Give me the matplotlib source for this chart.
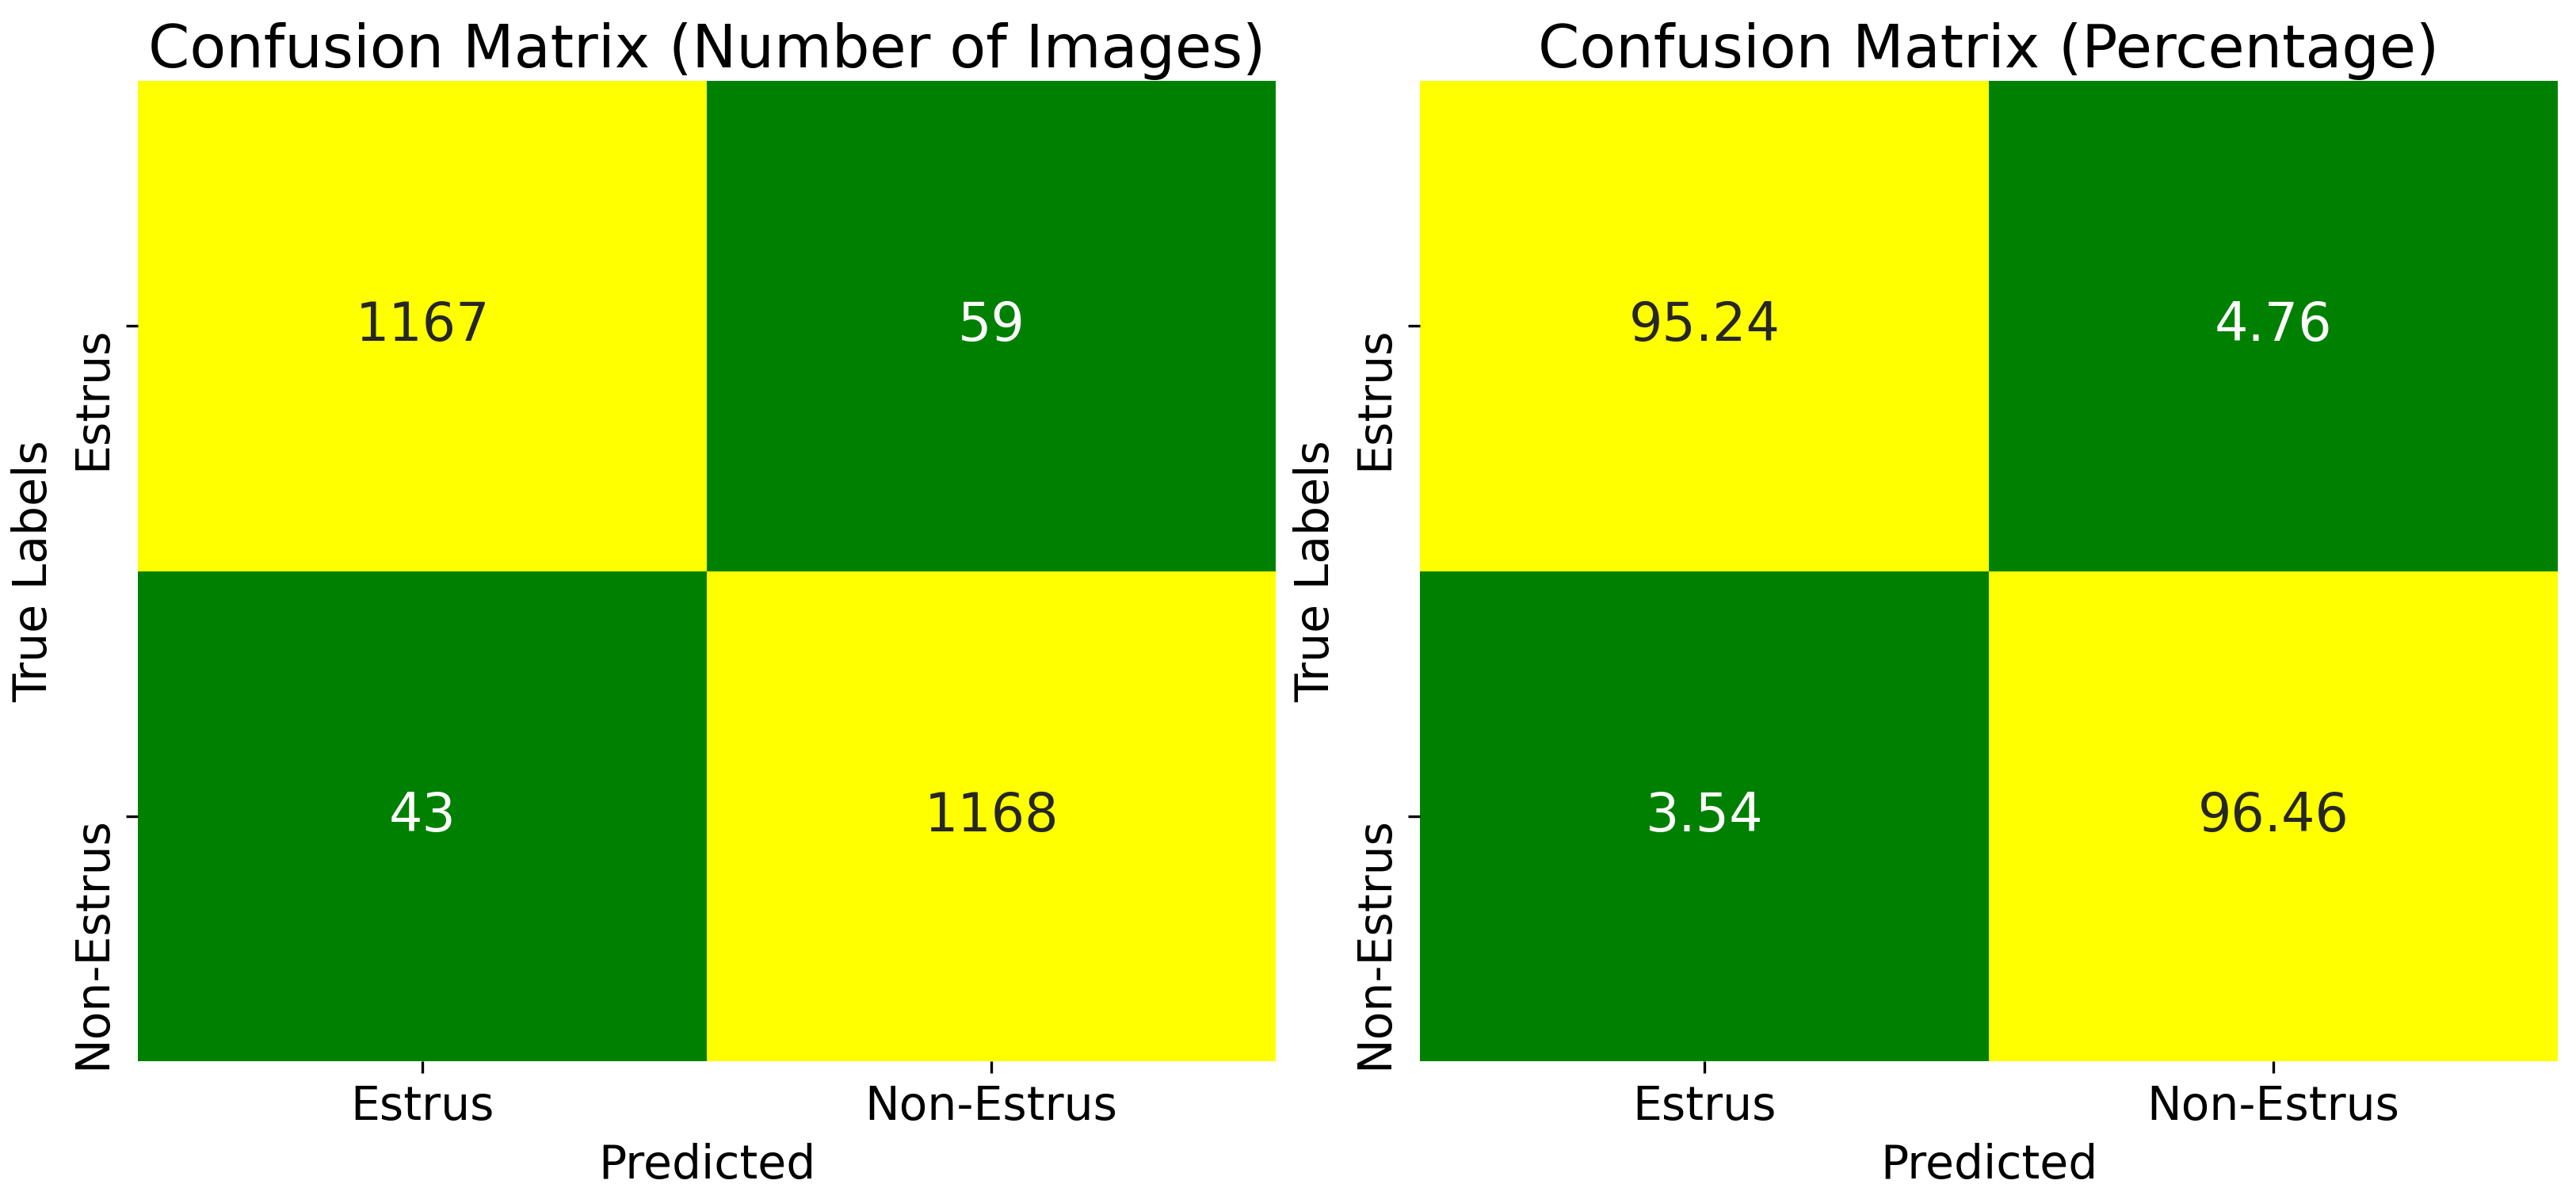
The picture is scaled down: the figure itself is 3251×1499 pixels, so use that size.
import matplotlib
matplotlib.use("Agg")
import matplotlib.pyplot as plt
import seaborn as sns
import numpy as np
from matplotlib.colors import ListedColormap

labels = ["Estrus", "Non-Estrus"]
counts = np.array([[1167, 59],
                   [43, 1168]])
percent = np.array([[95.24, 4.76],
                    [3.54, 96.46]])

W, H, DPI = 3251, 1499, 300
fig = plt.figure(figsize=(W / DPI, H / DPI), dpi=DPI)
cmap = ListedColormap(["green", "yellow"])

ax1 = fig.add_axes([174 / W, 1 - 1339 / H, 1436 / W, 1237 / H])
ax2 = fig.add_axes([1792 / W, 1 - 1339 / H, 1436 / W, 1237 / H])

sns.heatmap(counts, annot=True, fmt="d", cmap=cmap, cbar=False, ax=ax1,
            xticklabels=labels, yticklabels=labels, annot_kws={"size": 16})
sns.heatmap(percent, annot=True, fmt=".2f", cmap=cmap, cbar=False, ax=ax2,
            xticklabels=labels, yticklabels=labels, annot_kws={"size": 16})

for ax, title in [(ax1, "Confusion Matrix (Number of Images)"),
                  (ax2, "Confusion Matrix (Percentage)")]:
    ax.set_title(title, fontsize=18, pad=4)
    ax.set_xlabel("Predicted", fontsize=14)
    ax.set_ylabel("True Labels", fontsize=14)
    ax.tick_params(labelsize=14)
    for t in ax.get_yticklabels():
        t.set_rotation(90)
        t.set_va("top")

fig.savefig("out.png", dpi=DPI)
